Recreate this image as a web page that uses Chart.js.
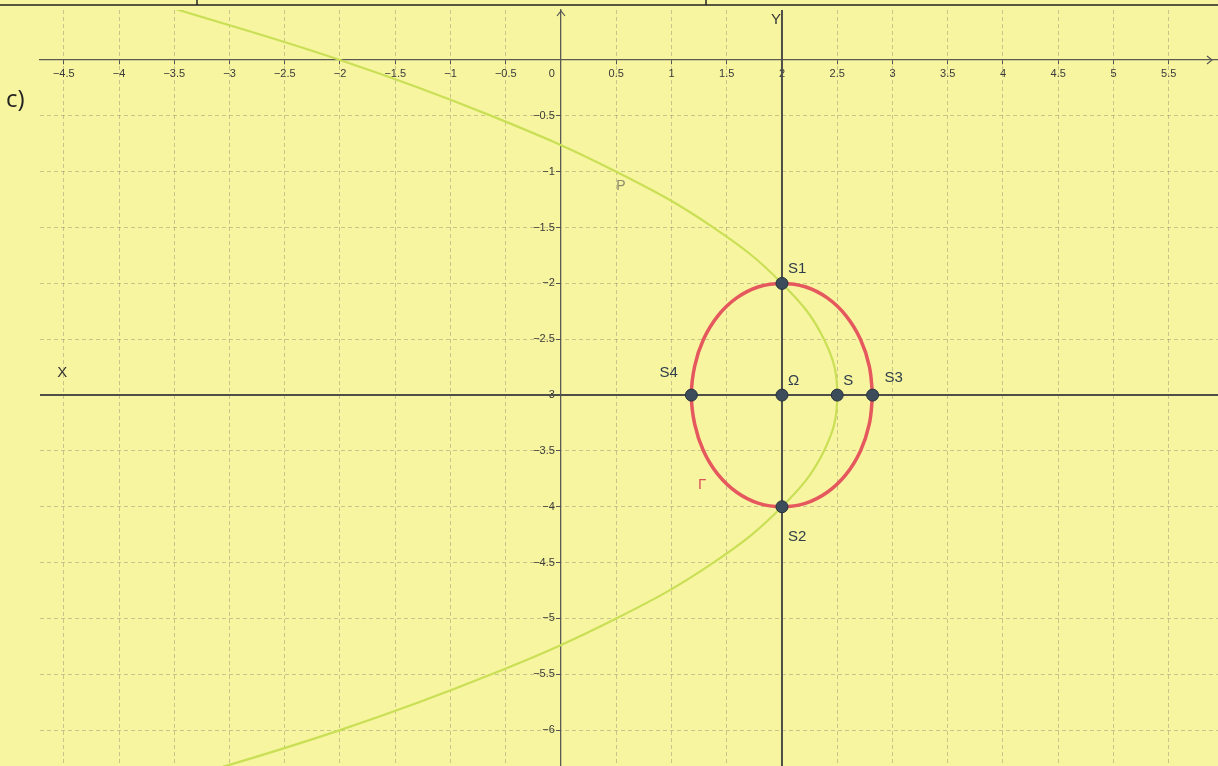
<!DOCTYPE html>
<html>
<head>
<meta charset="utf-8">
<script src="https://cdn.jsdelivr.net/npm/chart.js@4.4.0/dist/chart.umd.min.js"></script>
<style>
  html, body { margin: 0; padding: 0; background: #f8f5a0; }
  canvas { display: block; }
</style>
</head>
<body>
<canvas id="plot" width="1218" height="766"></canvas>
<script>
// Visible window of the coordinate plane
const xMin = -4.715, xMax = 5.946;
const yMin = -6.321, yMax = 0.448;

// Axis tick values and their labels
const xTickValues = [-4.5, -4, -3.5, -3, -2.5, -2, -1.5, -1, -0.5, 0, 0.5, 1, 1.5, 2, 2.5, 3, 3.5, 4, 4.5, 5, 5.5];
const xTickLabels = ['−4.5', '−4', '−3.5', '−3', '−2.5', '−2', '−1.5', '−1', '−0.5', '0      ', '0.5', '1', '1.5', '2', '2.5', '3', '3.5', '4', '4.5', '5', '5.5'];
const yTickValues = [-0.5, -1, -1.5, -2, -2.5, -3, -3.5, -4, -4.5, -5, -5.5, -6];
const yTickLabels = ['−0.5', '−1', '−1.5', '−2', '−2.5', '−3', '−3.5', '−4', '−4.5', '−5', '−5.5', '−6'];

// Parabola P (opens to the left, vertex at S)
const parabolaX = [-3.63, -2.0, -0.63, 0.5, 1.38, 2.0, 2.38, 2.5, 2.38, 2.0, 1.38, 0.5, -0.63, -2.0, -3.63];
const parabolaY = [0.5, 0, -0.5, -1, -1.5, -2, -2.5, -3, -3.5, -4, -4.5, -5, -5.5, -6, -6.5];

// Ellipse Γ around Ω
const ellipseX = [2.82, 2.79, 2.71, 2.58, 2.41, 2.21, 2.0, 1.79, 1.59, 1.42, 1.29, 1.21, 1.18, 1.21, 1.29, 1.42, 1.59, 1.79, 2.0, 2.21, 2.41, 2.58, 2.71, 2.79, 2.82];
const ellipseY = [-3, -2.74, -2.5, -2.29, -2.13, -2.03, -2, -2.03, -2.13, -2.29, -2.5, -2.74, -3, -3.26, -3.5, -3.71, -3.87, -3.97, -4, -3.97, -3.87, -3.71, -3.5, -3.26, -3];

// Marked points
const pointNames = ['S1', 'S2', 'S3', 'S4', 'Ω', 'S'];
const pointX = [2, 2, 2.82, 1.18, 2, 2.5];
const pointY = [-2, -4, -3, -3, -3, -3];

// Shifted axes X (y = -3) and Y (x = 2)
const shiftedXAxisY = -3;
const shiftedYAxisX = 2;

const zip = (xs, ys) => xs.map((x, i) => ({ x, y: ys[i] }));

const labelOffsets = {
  'S1': [6, -15], 'S2': [6, 30], 'S3': [12, -17],
  'S4': [-32, -22], 'Ω': [6, -14], 'S': [6, -14]
};

const decorations = {
  id: 'decorations',
  beforeDraw(chart) {
    const ctx = chart.ctx;
    ctx.save();
    ctx.fillStyle = '#f8f5a0';
    ctx.fillRect(0, 0, chart.width, chart.height);
    ctx.restore();
  },
  afterDatasetsDraw(chart) {
    const ctx = chart.ctx;
    const xs = chart.scales.x, ys = chart.scales.y;
    ctx.save();

    // point names
    ctx.font = '15px "Liberation Sans", Arial, sans-serif';
    ctx.fillStyle = '#2f3d4b';
    ctx.textBaseline = 'middle';
    ctx.textAlign = 'left';
    pointNames.forEach((n, i) => {
      const [dx, dy] = labelOffsets[n];
      ctx.fillText(n, xs.getPixelForValue(pointX[i]) + dx, ys.getPixelForValue(pointY[i]) + dy);
    });

    // curve names
    ctx.fillStyle = '#d9545a';
    ctx.fillText('Γ', xs.getPixelForValue(1.24), ys.getPixelForValue(-3.8));
    ctx.fillStyle = '#8e8c6c';
    ctx.font = '14px "Liberation Sans", Arial, sans-serif';
    ctx.fillText('P', xs.getPixelForValue(0.5), ys.getPixelForValue(-1.13));

    // shifted axis names
    ctx.fillStyle = '#333';
    ctx.font = '15px "Liberation Sans", Arial, sans-serif';
    ctx.fillText('X', xs.getPixelForValue(-4.56), ys.getPixelForValue(-2.8));
    ctx.fillText('Y', xs.getPixelForValue(1.9), ys.getPixelForValue(0.36));

    // axis arrowheads
    const ox = xs.getPixelForValue(0), oy = ys.getPixelForValue(0);
    ctx.strokeStyle = '#555';
    ctx.lineWidth = 1.2;
    ctx.beginPath();
    ctx.moveTo(ox - 4, chart.chartArea.top + 6);
    ctx.lineTo(ox, chart.chartArea.top + 1);
    ctx.lineTo(ox + 4, chart.chartArea.top + 6);
    ctx.moveTo(chart.chartArea.right - 11, oy - 4);
    ctx.lineTo(chart.chartArea.right - 6, oy);
    ctx.lineTo(chart.chartArea.right - 11, oy + 4);
    ctx.stroke();
    ctx.restore();
  },
  afterDraw(chart) {
    const ctx = chart.ctx;
    ctx.save();
    // frame of the surrounding table
    ctx.strokeStyle = '#222';
    ctx.lineWidth = 1.5;
    ctx.beginPath();
    ctx.moveTo(0, 5); ctx.lineTo(chart.width, 5);
    ctx.moveTo(197, 0); ctx.lineTo(197, 5);
    ctx.moveTo(706, 0); ctx.lineTo(706, 5);
    ctx.stroke();
    // part label
    ctx.fillStyle = '#222';
    ctx.font = '24px "Open Sans", "Liberation Sans", sans-serif';
    ctx.textBaseline = 'middle';
    ctx.fillText('c)', 6, 100);
    ctx.restore();
  }
};

const gridStyle = {
  color: 'rgba(110,110,95,0.35)',
  lineWidth: 1,
  tickColor: '#555',
  tickLength: 4,
  drawTicks: true
};
// solid axis line; dash applies to the grid lines
const axisBorder = { display: true, color: '#5a5a55', width: 1.3, dash: [4, 3] };

// let the plot area reach the canvas edges
const noScalePadding = s => { s.paddingLeft = 0; s.paddingRight = 0; s.paddingTop = 0; s.paddingBottom = 0; };

new Chart(document.getElementById('plot'), {
  type: 'scatter',
  data: {
    datasets: [
      {
        label: 'points',
        data: zip(pointX, pointY),
        showLine: false,
        pointRadius: 6,
        pointBackgroundColor: '#3c4c5b',
        pointBorderColor: '#26323d',
        pointBorderWidth: 1
      },
      {
        label: 'Γ',
        data: zip(ellipseX, ellipseY),
        showLine: true,
        tension: 0.4,
        borderColor: '#e5585e',
        borderWidth: 3.5,
        pointRadius: 0
      },
      {
        label: 'P',
        data: zip(parabolaX, parabolaY),
        showLine: true,
        tension: 0.4,
        borderColor: '#c9df55',
        borderWidth: 2.2,
        pointRadius: 0
      },
      {
        label: 'X',
        data: [{ x: xMin, y: shiftedXAxisY }, { x: xMax, y: shiftedXAxisY }],
        showLine: true,
        borderColor: '#4f4f4a',
        borderWidth: 2,
        pointRadius: 0
      },
      {
        label: 'Y',
        data: [{ x: shiftedYAxisX, y: yMax }, { x: shiftedYAxisX, y: yMin }],
        showLine: true,
        borderColor: '#4f4f4a',
        borderWidth: 2,
        pointRadius: 0
      }
    ]
  },
  options: {
    responsive: false,
    animation: false,
    layout: { autoPadding: false, padding: { left: 40, top: 10, right: 0, bottom: 0 } },
    plugins: { legend: { display: false }, tooltip: { enabled: false } },
    scales: {
      x: {
        type: 'linear',
        position: { y: 0 },
        min: xMin, max: xMax,
        afterBuildTicks: s => { s.ticks = xTickValues.map(v => ({ value: v })); },
        afterFit: noScalePadding,
        ticks: {
          callback: (v, i) => xTickLabels[i],
          font: { size: 11, family: '"Liberation Sans", Arial, sans-serif' },
          color: '#3a3a3a',
          padding: 3,
          maxRotation: 0,
          autoSkip: false
        },
        grid: gridStyle,
        border: axisBorder
      },
      y: {
        type: 'linear',
        position: { x: 0 },
        min: yMin, max: yMax,
        afterBuildTicks: s => { s.ticks = yTickValues.map(v => ({ value: v })); },
        afterFit: noScalePadding,
        ticks: {
          callback: (v, i) => yTickLabels[i] + '  ',
          font: { size: 11, family: '"Liberation Sans", Arial, sans-serif' },
          color: '#3a3a3a',
          padding: 3,
          autoSkip: false
        },
        grid: gridStyle,
        border: axisBorder
      }
    }
  },
  plugins: [decorations]
});
</script>
</body>
</html>
